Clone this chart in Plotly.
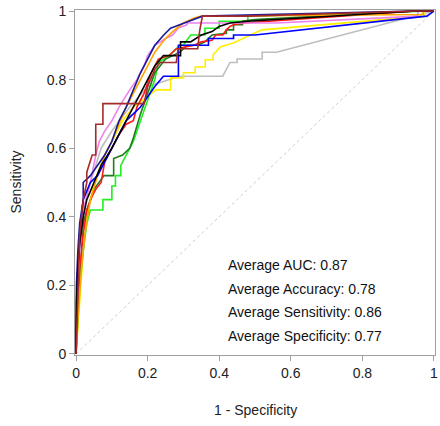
import plotly.graph_objects as go

# ROC curves: (1 - specificity, sensitivity)
gray_x = [0, 0.003, 0.01, 0.02, 0.04, 0.07, 0.1, 0.15, 0.2, 0.29, 0.41, 0.43, 0.45, 0.45, 0.52, 0.52, 0.56, 0.95, 1]
gray_y = [0, 0.2, 0.35, 0.45, 0.5, 0.6, 0.65, 0.72, 0.78, 0.81, 0.81, 0.85, 0.85, 0.86, 0.86, 0.88, 0.88, 0.985, 1]

yellow_x = [0, 0.01, 0.02, 0.03, 0.05, 0.08, 0.1, 0.13, 0.16, 0.2, 0.222, 0.264, 0.264, 0.3, 0.3, 0.333, 0.333, 0.361, 0.361, 0.383, 0.383, 0.403, 0.439, 0.519, 0.975, 0.975, 1]
yellow_y = [0, 0.15, 0.3, 0.4, 0.5, 0.58, 0.62, 0.68, 0.72, 0.75, 0.77, 0.77, 0.805, 0.805, 0.82, 0.82, 0.837, 0.837, 0.858, 0.858, 0.872, 0.895, 0.907, 0.945, 0.985, 1, 1]

lime_x = [0, 0.005, 0.01, 0.02, 0.03, 0.04, 0.075, 0.075, 0.1, 0.1, 0.11, 0.11, 0.125, 0.125, 0.14, 0.16, 0.18, 0.2, 0.22, 0.23, 0.26, 0.29, 0.3, 0.32, 0.36, 0.36, 0.4, 0.4, 0.48, 0.48, 0.95, 1]
lime_y = [0, 0.1, 0.2, 0.3, 0.38, 0.42, 0.42, 0.45, 0.45, 0.49, 0.49, 0.52, 0.52, 0.55, 0.58, 0.62, 0.68, 0.74, 0.8, 0.85, 0.87, 0.9, 0.9, 0.93, 0.93, 0.95, 0.95, 0.97, 0.97, 0.985, 1, 1]

dkgreen_x = [0, 0.005, 0.015, 0.02, 0.03, 0.05, 0.078, 0.105, 0.105, 0.13, 0.15, 0.16, 0.18, 0.2, 0.22, 0.25, 0.29, 0.31, 0.34, 0.36, 0.38, 0.42, 0.42, 0.44, 0.44, 0.465, 0.465, 0.5, 0.95, 1]
dkgreen_y = [0, 0.15, 0.3, 0.38, 0.42, 0.48, 0.52, 0.52, 0.57, 0.58, 0.6, 0.63, 0.7, 0.76, 0.82, 0.86, 0.88, 0.9, 0.9, 0.91, 0.93, 0.935, 0.945, 0.945, 0.96, 0.96, 0.97, 0.975, 1, 1]

red_x = [0, 0.003, 0.01, 0.02, 0.03, 0.045, 0.055, 0.07, 0.08, 0.1, 0.12, 0.14, 0.16, 0.17, 0.19, 0.21, 0.23, 0.26, 0.28, 0.33, 0.35, 0.38, 0.39, 0.41, 0.42, 0.43, 0.44, 0.47, 0.95, 1]
red_y = [0, 0.12, 0.25, 0.35, 0.42, 0.46, 0.48, 0.5, 0.56, 0.6, 0.64, 0.67, 0.68, 0.72, 0.76, 0.82, 0.86, 0.87, 0.89, 0.9, 0.91, 0.915, 0.93, 0.93, 0.945, 0.955, 0.96, 0.965, 1, 1]

violet_x = [0, 0.003, 0.01, 0.02, 0.04, 0.055, 0.065, 0.08, 0.1, 0.12, 0.15, 0.17, 0.19, 0.2, 0.22, 0.25, 0.27, 0.285, 0.31, 0.31, 0.56, 0.955, 0.955, 1]
violet_y = [0, 0.15, 0.3, 0.42, 0.5, 0.58, 0.62, 0.65, 0.68, 0.72, 0.77, 0.8, 0.84, 0.87, 0.9, 0.92, 0.93, 0.95, 0.96, 0.965, 0.965, 0.985, 1, 1]

orange_x = [0, 0.005, 0.015, 0.025, 0.04, 0.06, 0.08, 0.1, 0.12, 0.14, 0.16, 0.18, 0.2, 0.22, 0.235, 0.25, 0.27, 0.29, 0.3, 0.33, 0.35, 0.97, 0.97, 1]
orange_y = [0, 0.1, 0.25, 0.35, 0.45, 0.52, 0.58, 0.62, 0.67, 0.72, 0.76, 0.8, 0.84, 0.88, 0.9, 0.92, 0.94, 0.955, 0.965, 0.98, 0.985, 0.99, 1, 1]

blue_x = [0, 0.003, 0.01, 0.02, 0.04, 0.06, 0.08, 0.1, 0.12, 0.14, 0.16, 0.18, 0.2, 0.22, 0.244, 0.286, 0.286, 0.37, 0.37, 0.44, 0.44, 0.5, 0.98, 1]
blue_y = [0, 0.2, 0.35, 0.45, 0.5, 0.52, 0.56, 0.6, 0.64, 0.68, 0.7, 0.72, 0.75, 0.78, 0.81, 0.81, 0.9, 0.9, 0.92, 0.92, 0.93, 0.93, 0.985, 1]

navy_x = [0, 0.001, 0.005, 0.01, 0.02, 0.02, 0.04, 0.06, 0.08, 0.1, 0.12, 0.14, 0.16, 0.18, 0.2, 0.22, 0.245, 0.264, 0.264, 0.31, 0.31, 0.353, 0.95, 1]
navy_y = [0, 0.2, 0.3, 0.38, 0.45, 0.5, 0.52, 0.55, 0.58, 0.62, 0.68, 0.72, 0.77, 0.82, 0.86, 0.9, 0.93, 0.95, 0.95, 0.968, 0.968, 0.985, 1, 1]

black_x = [0, 0.001, 0.005, 0.01, 0.02, 0.03, 0.05, 0.07, 0.1, 0.12, 0.14, 0.16, 0.18, 0.2, 0.22, 0.244, 0.292, 0.292, 0.32, 0.35, 0.38, 0.4, 0.43, 0.48, 0.95, 1]
black_y = [0, 0.15, 0.25, 0.32, 0.4, 0.45, 0.5, 0.55, 0.6, 0.64, 0.68, 0.72, 0.76, 0.8, 0.84, 0.87, 0.87, 0.91, 0.91, 0.93, 0.94, 0.955, 0.965, 0.97, 1, 1]

brown_x = [0, 0.005, 0.01, 0.02, 0.03, 0.03, 0.045, 0.055, 0.055, 0.075, 0.075, 0.19, 0.2, 0.22, 0.235, 0.28, 0.285, 0.34, 0.345, 0.353, 0.478, 0.95, 1]
brown_y = [0, 0.2, 0.35, 0.45, 0.5, 0.53, 0.58, 0.58, 0.67, 0.67, 0.73, 0.73, 0.78, 0.83, 0.85, 0.85, 0.89, 0.89, 0.94, 0.985, 0.985, 1, 1]

curves = [
    ("gray", gray_x, gray_y, "#BEBEBE"),
    ("yellow", yellow_x, yellow_y, "#FFEE00"),
    ("lime", lime_x, lime_y, "#22EE22"),
    ("darkgreen", dkgreen_x, dkgreen_y, "#1E7B1E"),
    ("red", red_x, red_y, "#FF1A1A"),
    ("violet", violet_x, violet_y, "#EE82EE"),
    ("orange", orange_x, orange_y, "#FFA500"),
    ("blue", blue_x, blue_y, "#0000FF"),
    ("navy", navy_x, navy_y, "#1A1A99"),
    ("black", black_x, black_y, "#000000"),
    ("brown", brown_x, brown_y, "#A52A2A"),
]

stats_labels = ["Average AUC: 0.87", "Average Accuracy: 0.78",
                "Average Sensitivity: 0.86", "Average Specificity: 0.77"]
stats_y = [0.259, 0.189, 0.122, 0.052]
tick_vals = [0, 0.2, 0.4, 0.6, 0.8, 1]
tick_text = ["0", "0.2", "0.4", "0.6", "0.8", "1"]

FONT = "Liberation Sans, Arial"

fig = go.Figure()
fig.add_trace(go.Scatter(x=[0, 1], y=[0, 1], mode="lines",
                         line=dict(color="#CCCCCC", width=1, dash="dot"),
                         hoverinfo="skip"))
for name, xs, ys, col in curves:
    fig.add_trace(go.Scatter(x=xs, y=ys, mode="lines", name=name,
                             line=dict(color=col, width=1.6)))

for txt, yy in zip(stats_labels, stats_y):
    fig.add_annotation(x=0.42, y=yy, xref="x", yref="y", text=txt,
                       showarrow=False, xanchor="left", yanchor="middle",
                       font=dict(family=FONT, size=14, color="#111111"))

# axis titles
fig.add_annotation(x=0, y=0.5, xref="paper", yref="paper", text="Sensitivity",
                   textangle=-90, showarrow=False, xanchor="center", yanchor="middle",
                   xshift=-60, font=dict(family=FONT, size=14, color="#222222"))
fig.add_annotation(x=0.5, y=0, xref="paper", yref="paper", text="1 - Specificity",
                   showarrow=False, xanchor="center", yanchor="middle",
                   yshift=-55, font=dict(family=FONT, size=14, color="#222222"))

axis_common = dict(
    range=[-0.003, 1.003], tickmode="array", tickvals=tick_vals, ticktext=tick_text,
    showgrid=False, zeroline=False, showline=True, mirror=True,
    linecolor="#A0A0A0", linewidth=1, ticks="outside", ticklen=5,
    tickcolor="#A0A0A0", tickfont=dict(family=FONT, size=14, color="#222222"),
    automargin=False, ticklabeloverflow="allow",
)
fig.update_xaxes(**axis_common)
fig.update_yaxes(**axis_common)
fig.update_layout(width=440, height=426, showlegend=False,
                  margin=dict(l=75, r=5, t=10, b=71),
                  plot_bgcolor="white", paper_bgcolor="white")
# remove the default 8px page margin so the figure fills the window exactly
fig.write_html("out.html", config={"displayModeBar": False},
               post_script="document.body.style.margin='0';document.body.style.overflow='hidden';")
